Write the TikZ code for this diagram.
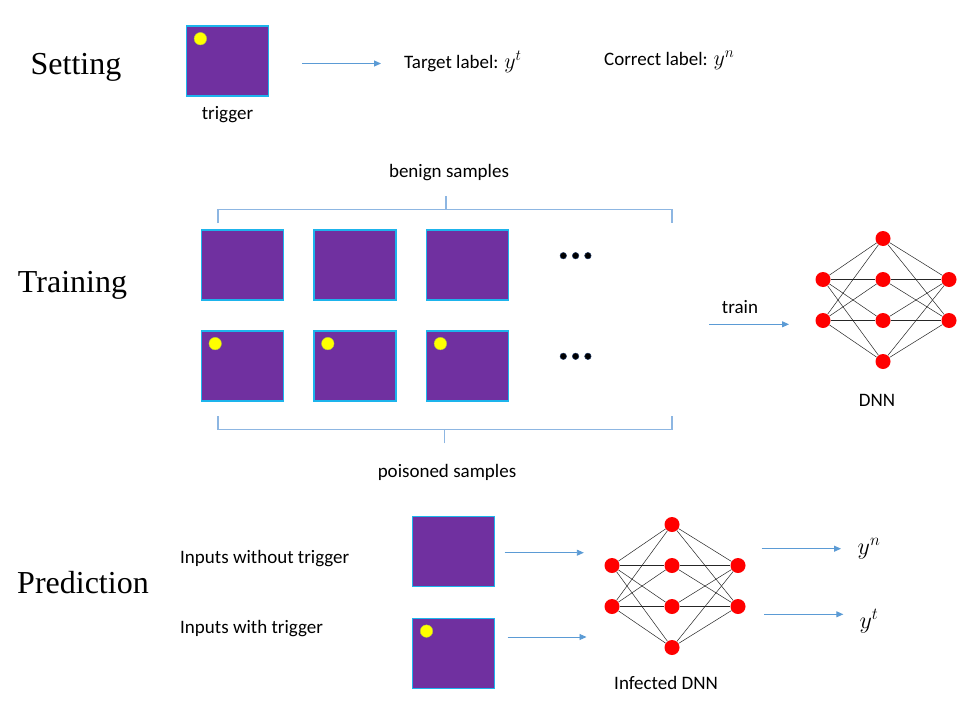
\RequirePackage{fix-cm}
\documentclass[tikz,border=0pt]{standalone}
\usepackage{fontspec}
\setmainfont{Carlito}
\newfontfamily\headfont{Liberation Serif}
\usepackage{tikz}
\usetikzlibrary{positioning,calc,arrows.meta}
\definecolor{imgfill}{HTML}{7030A0}
\definecolor{imgedge}{HTML}{1DB4EC}
\definecolor{trigyellow}{HTML}{FFFF00}
\definecolor{trigedge}{HTML}{B8C83C}
\definecolor{dotedge}{HTML}{1F3864}
\definecolor{flowblue}{HTML}{5B9BD5}
\definecolor{braceblue}{HTML}{8DB6E2}
\definecolor{neuronred}{HTML}{FF0000}
\newcommand{\lab}[1]{{\fontsize{22}{24}\selectfont$#1$}}

\begin{document}
\begin{tikzpicture}[x=1pt,y=-1pt,
        img/.style={draw=imgedge, fill=imgfill, line width=1.6pt, minimum width=82pt, minimum height=70pt, inner sep=0pt},
        trig/.style={circle, fill=trigyellow, draw=trigedge, line width=0.4pt, minimum size=12.5pt, inner sep=0pt},
        more/.style={circle, fill=black, draw=dotedge, line width=0.5pt, minimum size=6.5pt, inner sep=0pt},
        neuron/.style={circle, fill=neuronred, minimum size=15pt, inner sep=0pt},
        link/.style={line width=0.5pt, black!85},
        flow/.style={draw=flowblue, line width=0.9pt, -{Triangle[length=7pt,width=6pt]}},
        brace/.style={draw=braceblue, line width=1.1pt},
        lbl/.style={font=\fontsize{19}{22}\selectfont, inner sep=0pt},
        head/.style={font=\headfont\fontsize{32}{38}\selectfont, inner sep=0pt}]
            \path[use as bounding box, fill=white] (0,0) rectangle (979,712);

            \node[head](setting) at (76,67){Setting};
            \node[head](training) at (72.5,285){Training};
            \node[head](prediction) at (83,583){Prediction};

            \node[img](trigger) at (227.5,61){};
            \node[trig](trigdot) at ($(trigger.north west)+(14.7,13.5)$){};
            \node[lbl, below=9.5pt of trigger](triglabel){trigger};
            \coordinate (setA) at (302,63.5);
            \coordinate (setB) at (381,63.5);
            \draw[flow](setA)--(setB);
            \node[lbl, anchor=west](target) at (404,62){Target label: \lab{y^t}};
            \node[lbl, anchor=west](correct) at (604,60){Correct label: \lab{y^n}};

            \node[lbl](benign) at (449,173){benign samples};
            \node[img](b1) at (242.3,265){};
            \node[img, right=29pt of b1](b2){};
            \node[img, right=29pt of b2](b3){};
            \node[img, below=29.3pt of b1](p1){};
            \node[img, right=29pt of p1](p2){};
            \node[img, right=29pt of p2](p3){};
            \foreach \k in {1,2,3}
                \node[trig](pdot\k) at ($(p\k.north west)+(14.7,13.5)$){};
            \foreach \k/\dx in {1/0,2/12.3,3/24.6}{
                \node[more](bmore\k) at (563.3+\dx,255.7){};
                \node[more](pmore\k) at (563.3+\dx,356.3){};
            }
            \coordinate (btl) at (218,223);
            \coordinate (btr) at (672,223);
            \coordinate (btm) at (446,196);
            \draw[brace](btl)--++(0,-13.5)-|(btr);
            \draw[brace](btm)--++(0,13.5);
            \coordinate (pbl) at (218,416);
            \coordinate (pbr) at (672,416);
            \coordinate (pbm) at (444.3,443.3);
            \draw[brace](pbl)--++(0,13.3)-|(pbr);
            \draw[brace](pbm)--++(0,-14);
            \node[lbl](poisoned) at (447,472){poisoned samples};

            \coordinate (trainA) at (709,324.3);
            \coordinate (trainB) at (789,324.3);
            \draw[flow](trainA)--(trainB);
            \node[lbl](trainlabel) at (740,307){train};

            \foreach \net/\cx/\cy in {dnn/883/300,inf/672/586}{
                \foreach \i/\dy in {1/-20.5,2/20.5}{
                    \node[neuron](\net-a\i) at (\cx-60,\cy+\dy){};
                    \node[neuron](\net-c\i) at (\cx+66,\cy+\dy){};
                }
                \foreach \j/\dy in {1/-61.5,2/-20.5,3/20.5,4/61.5}
                    \node[neuron](\net-b\j) at (\cx,\cy+\dy){};
                \foreach \j in {1,...,4}
                    \foreach \i in {1,2}{
                        \draw[link](\net-a\i)--(\net-b\j);
                        \draw[link](\net-b\j)--(\net-c\i);
                    }
            }
            \node[lbl](dnnlabel) at (877,400){DNN};

            \node[lbl, anchor=west](nolabel) at (180,559){Inputs without trigger};
            \node[lbl, anchor=west](withlabel) at (180,629){Inputs with trigger};
            \node[img](clean) at (453.6,551.3){};
            \node[img, below=30.5pt of clean](dirty){};
            \node[trig](dirtydot) at ($(dirty.north west)+(14.7,13.5)$){};
            \coordinate (cleanA) at (504.6,552.7);
            \coordinate (cleanB) at (583.8,552.7);
            \draw[flow](cleanA)--(cleanB);
            \coordinate (dirtyA) at (507.7,637);
            \coordinate (dirtyB) at (586.5,637);
            \draw[flow](dirtyA)--(dirtyB);
            \node[lbl](inflabel) at (666,683){Infected DNN};
            \coordinate (outnA) at (761.7,548.7);
            \coordinate (outnB) at (841,548.7);
            \draw[flow](outnA)--(outnB);
            \coordinate (outtA) at (764,614.3);
            \coordinate (outtB) at (843.3,614.3);
            \draw[flow](outtA)--(outtB);
            \node[lbl, font=\fontsize{24}{26}\selectfont](yn) at (869,549){$y^n$};
            \node[lbl, font=\fontsize{24}{26}\selectfont](yt) at (869,621){$y^t$};
        \end{tikzpicture}
\end{document}
